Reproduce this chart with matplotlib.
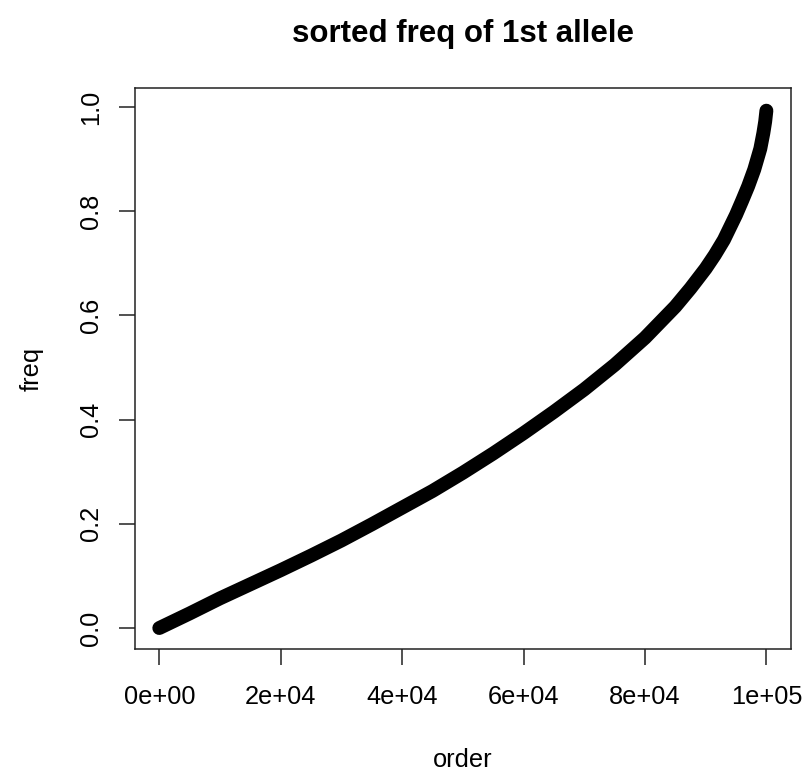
import numpy as np
from matplotlib import pyplot as plt

'''values read off the sorted allele frequency curve'''
order = [0, 5000, 10000, 15000, 20000, 25000, 30000, 35000, 40000, 45000,
         50000, 55000, 60000, 65000, 70000, 75000, 80000, 85000, 87500,
         90000, 91500, 93000, 95000, 96000, 97000, 98000, 98500, 99000,
         99500, 99800, 100000]
freq = [0.000, 0.028, 0.057, 0.084, 0.111, 0.139, 0.168, 0.199, 0.231, 0.263,
        0.298, 0.335, 0.374, 0.415, 0.458, 0.505, 0.557, 0.617, 0.652,
        0.690, 0.716, 0.745, 0.793, 0.820, 0.848, 0.880, 0.900, 0.920,
        0.950, 0.972, 0.993]

xticks = [0, 20000, 40000, 60000, 80000, 100000]
xticklabels = ['0e+00', '2e+04', '4e+04', '6e+04', '8e+04', '1e+05']
yticks = [0.0, 0.2, 0.4, 0.6, 0.8, 1.0]
yticklabels = ['0.0', '0.2', '0.4', '0.6', '0.8', '1.0']

plt.rcParams['font.family'] = ['Liberation Sans', 'DejaVu Sans']

fig = plt.figure(figsize=(8.05, 7.72), dpi=100)
ax = fig.add_axes([0.1677, 0.1593, 0.8145, 0.7267])

ax.plot(order, freq, color='black', linewidth=10,
        solid_capstyle='round', solid_joinstyle='round')

ax.set_xlim(-4000, 104000)
ax.set_ylim(-0.0403, 1.0365)
ax.set_xticks(xticks)
ax.set_xticklabels(xticklabels)
ax.set_yticks(yticks)
ax.set_yticklabels(yticklabels, rotation=90, va='center')

for s in ax.spines.values():
    s.set_linewidth(1.1)
    s.set_color('#222222')
ax.tick_params(direction='out', length=11.2, width=1.1, color='#222222',
               labelsize=18.3)
ax.tick_params(axis='x', pad=14.5)
ax.tick_params(axis='y', pad=11.5)

ax.set_xlabel('order', fontsize=18.3, labelpad=28.5)
ax.set_ylabel('freq', fontsize=18.3, labelpad=26)
ax.set_title('sorted freq of 1st allele', fontsize=22.5, fontweight='bold', pad=33)

fig.savefig('out.png', dpi=100)
